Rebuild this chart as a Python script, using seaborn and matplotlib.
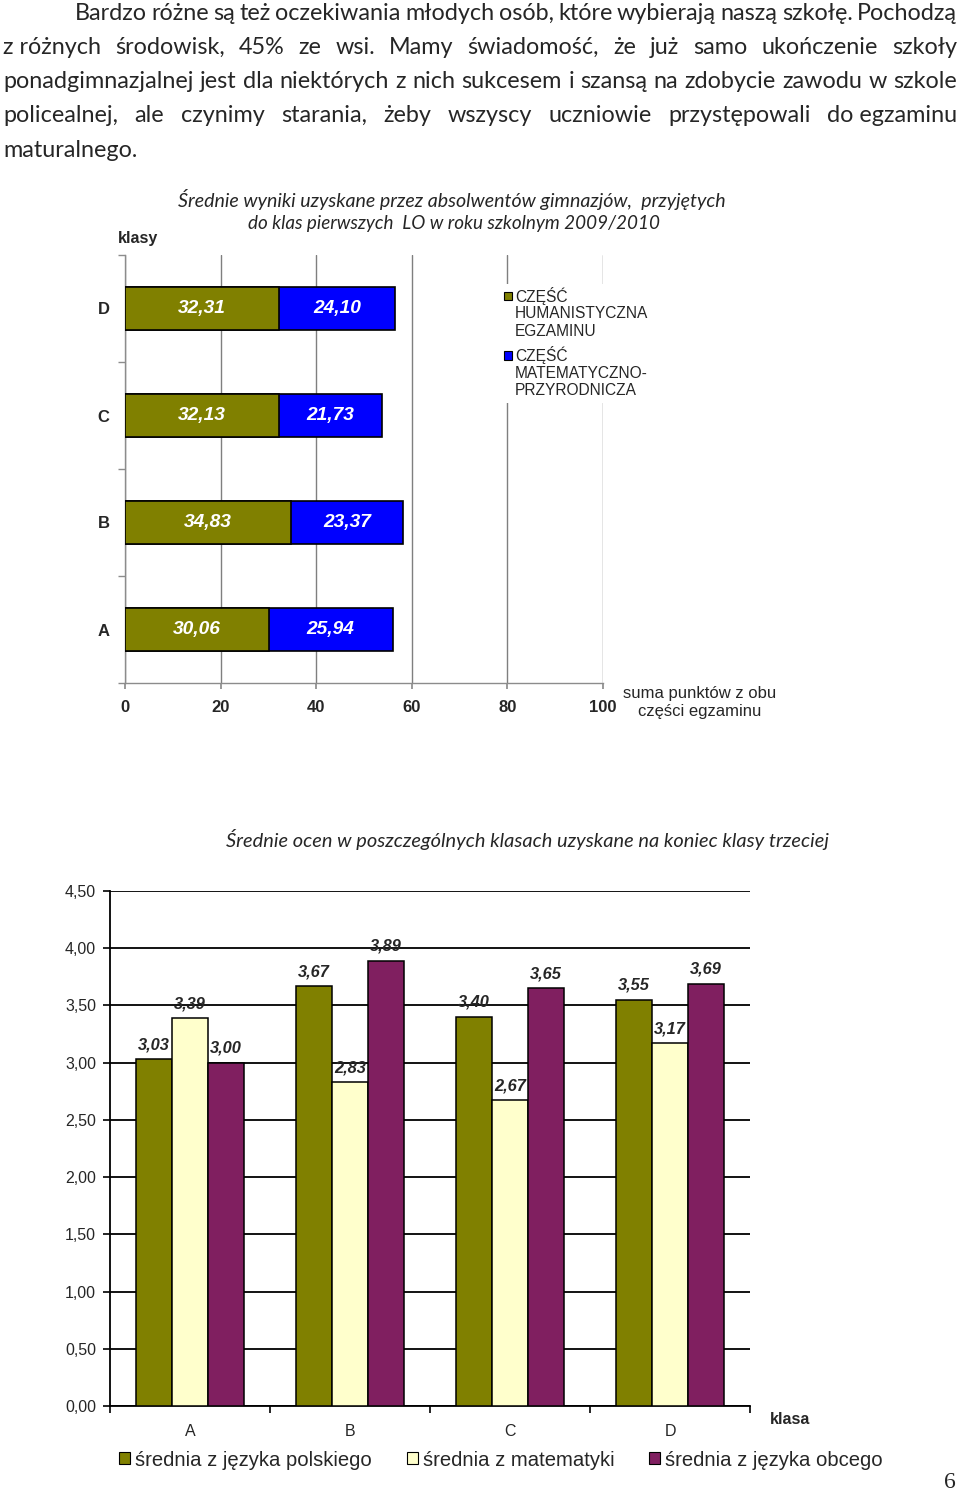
import numpy as np
import pandas as pd
import matplotlib
matplotlib.use("Agg")
import matplotlib.pyplot as plt
import seaborn as sns
from matplotlib.patches import Rectangle
from matplotlib import font_manager as fm

# ---------------- data ----------------
paragraph_lines = [
    "Bardzo różne są też oczekiwania młodych osób, które wybierają naszą szkołę. Pochodzą",
    "z\u00a0różnych środowisk, 45% ze wsi. Mamy świadomość, że już samo ukończenie szkoły",
    "ponadgimnazjalnej jest dla niektórych z nich sukcesem i szansą na zdobycie zawodu w szkole",
    "policealnej, ale czynimy starania, żeby wszyscy uczniowie przystępowali do\u00a0egzaminu",
    "maturalnego.",
]
top_title_lines = [
    "Średnie wyniki uzyskane przez absolwentów gimnazjów,  przyjętych",
    "do klas pierwszych  LO w roku szkolnym 2009/2010",
]
classes_top = ["D", "C", "B", "A"]
hum_scores = [32.31, 32.13, 34.83, 30.06]
math_scores = [24.10, 21.73, 23.37, 25.94]
top_ticks = [0, 20, 40, 60, 80, 100]
top_legend = [["CZĘŚĆ", "HUMANISTYCZNA", "EGZAMINU"],
              ["CZĘŚĆ", "MATEMATYCZNO-", "PRZYRODNICZA"]]
top_xlabel = ["suma punktów z obu", "części egzaminu"]

bottom_title = "Średnie ocen w poszczególnych klasach uzyskane na koniec klasy trzeciej"
classes_bottom = ["A", "B", "C", "D"]
series_names = ["średnia z języka polskiego", "średnia z matematyki", "średnia z języka obcego"]
polish = [3.03, 3.67, 3.40, 3.55]
maths = [3.39, 2.83, 2.67, 3.17]
foreign = [3.00, 3.89, 3.65, 3.69]
bottom_ticks = [0, 0.5, 1.0, 1.5, 2.0, 2.5, 3.0, 3.5, 4.0, 4.5]

OLIVE = "#808000"
BLUE = "#0000FF"
CREAM = "#FFFFCC"
PLUM = "#801F60"

# ---------------- setup ----------------
sns.set_theme(style="white")
plt.rcParams["font.family"] = ["Liberation Sans", "DejaVu Sans"]
names = {f.name for f in fm.fontManager.ttflist}
NARROW = "Liberation Sans Narrow" if "Liberation Sans Narrow" in names else "Liberation Sans"
narrow_size = 14.5 if NARROW == "Liberation Sans Narrow" else 13.8
BODY = "Lato" if "Lato" in names else "DejaVu Sans"

W, H = 960, 1493
fig = plt.figure(figsize=(W / 100, H / 100), dpi=100)
fig.patch.set_facecolor("white")


def fx(px):
    return px / W


def fy(py):
    return 1 - py / H


def comma(v, nd=2):
    return f"{v:.{nd}f}".replace(".", ",")


renderer = fig.canvas.get_renderer()


def twidth(s, **kw):
    t = fig.text(0, 0, s, **kw)
    w = t.get_window_extent(renderer).width
    t.remove()
    return w


# ---------------- paragraph (justified) ----------------
body_kw = dict(family=[BODY, "DejaVu Sans"], size=16)
w3 = twidth(paragraph_lines[2], **body_kw)
body_kw["size"] = 16 * 954 / w3
baselines = [20, 54, 88, 122, 157]
lefts = [75, 3, 3, 3, 3]
for i, line in enumerate(paragraph_lines):
    words = line.split(" ")
    if i == len(paragraph_lines) - 1:
        fig.text(fx(lefts[i]), fy(baselines[i]), line, ha="left", va="baseline", **body_kw)
        continue
    widths = [twidth(w, **body_kw) for w in words]
    gap = (957 - lefts[i] - sum(widths)) / (len(words) - 1)
    x = lefts[i]
    for w, wd in zip(words, widths):
        fig.text(fx(x), fy(baselines[i]), w, ha="left", va="baseline", **body_kw)
        x += wd + gap

# ---------------- top chart ----------------
ax1 = fig.add_axes([fx(125), fy(683), fx(603) - fx(125), (683 - 255) / H])
df_top = pd.DataFrame({"klasa": classes_top, "hum": hum_scores, "mat": math_scores})
df_top["total"] = df_top["hum"] + df_top["mat"]
sns.barplot(data=df_top, x="total", y="klasa", order=classes_top, color=BLUE,
            saturation=1, width=0.4, edgecolor="black", linewidth=1.2,
            errorbar=None, ax=ax1, zorder=3)
sns.barplot(data=df_top, x="hum", y="klasa", order=classes_top, color=OLIVE,
            saturation=1, width=0.4, edgecolor="black", linewidth=1.2,
            errorbar=None, ax=ax1, zorder=3)
ax1.set_xlim(0, 100)
ax1.set_ylim(3.5, -0.5)
ax1.set_xticks(top_ticks)
ax1.set_xticklabels([str(t) for t in top_ticks])
ax1.set_xlabel("")
ax1.set_ylabel("")
ax1.xaxis.grid(True, color="#7f7f7f", lw=1)
ax1.yaxis.grid(False)
ax1.set_axisbelow(True)
for s in ["top", "right"]:
    ax1.spines[s].set_visible(False)
for s in ["left", "bottom"]:
    ax1.spines[s].set_color("#8c8c8c")
    ax1.spines[s].set_linewidth(1)
ax1.tick_params(axis="x", bottom=True, length=4, color="#8c8c8c", pad=8, labelsize=12)
ax1.tick_params(axis="y", which="major", left=False, length=0, pad=11, labelsize=12)
ax1.set_yticks(np.arange(-0.5, 4, 1), minor=True)
ax1.tick_params(axis="y", which="minor", left=True, length=5, color="#8c8c8c", width=1)
for lab in ax1.get_xticklabels() + ax1.get_yticklabels():
    lab.set_fontweight("bold")

lab_kw = dict(color="white", fontweight="bold", style="italic",
              family=[NARROW, "DejaVu Sans"], fontsize=narrow_size)
ax1.bar_label(ax1.containers[1], labels=[comma(v) for v in hum_scores],
              label_type="center", **lab_kw)
for i, (h, m) in enumerate(zip(hum_scores, math_scores)):
    ax1.text(h + m / 2, i, comma(m), ha="center", va="center", zorder=5, **lab_kw)

title_sizes = [14.1, 13.6]
for j, line in enumerate(top_title_lines):
    fig.text(fx(452 + 2 * j), fy(200 + 24 * j), line, ha="center", va="center",
             style="italic", family=[BODY, "DejaVu Sans"], size=title_sizes[j])
fig.text(fx(138), fy(238), "klasy", ha="center", va="center", fontweight="bold", size=11.5)
for j, line in enumerate(top_xlabel):
    fig.text(fx(700), fy(693 + 19 * j), line, ha="center", va="center", size=12)

# legend of top chart (white panel hides grid lines)
fig.add_artist(Rectangle((fx(497), fy(403)), fx(665) - fx(497), (403 - 284) / H,
                         transform=fig.transFigure, facecolor="white",
                         edgecolor="none", zorder=2))
for k, (col, lines) in enumerate(zip([OLIVE, BLUE], top_legend)):
    y0 = 296 + 59.5 * k
    fig.add_artist(Rectangle((fx(503.5), fy(y0 + 4)), 8 / W, 8 / H,
                             transform=fig.transFigure, facecolor=col,
                             edgecolor="black", lw=0.8, zorder=3))
    for j, line in enumerate(lines):
        fig.text(fx(515), fy(y0 + 17.7 * j), line, ha="left", va="center",
                 size=11.2, zorder=3)

# ---------------- bottom chart ----------------
fig.text(fx(528), fy(840), bottom_title, ha="center", va="center",
         style="italic", family=[BODY, "DejaVu Sans"], size=14.4)

ax2 = fig.add_axes([fx(110), fy(1406), fx(750) - fx(110), (1406 - 891) / H])
df_bot = pd.DataFrame({
    "klasa": classes_bottom * 3,
    "seria": [series_names[0]] * 4 + [series_names[1]] * 4 + [series_names[2]] * 4,
    "ocena": polish + maths + foreign,
})
sns.barplot(data=df_bot, x="klasa", y="ocena", hue="seria", order=classes_bottom,
            hue_order=series_names, palette=[OLIVE, CREAM, PLUM], saturation=1,
            width=0.675, edgecolor="black", linewidth=1.1, errorbar=None,
            ax=ax2, zorder=3)
ax2.set_ylim(0, 4.5)
ax2.set_xlim(-0.5, 3.5)
ax2.set_yticks(bottom_ticks)
ax2.set_yticklabels([comma(t) for t in bottom_ticks])
ax2.set_xlabel("")
ax2.set_ylabel("")
ax2.yaxis.grid(True, color="black", lw=1.3)
ax2.xaxis.grid(False)
ax2.set_axisbelow(True)
for s in ["top", "right"]:
    ax2.spines[s].set_visible(False)
for s in ["left", "bottom"]:
    ax2.spines[s].set_color("black")
    ax2.spines[s].set_linewidth(1.3)
ax2.tick_params(axis="y", left=True, length=5, width=1.2, color="black", pad=5, labelsize=11.5)
ax2.tick_params(axis="x", which="major", bottom=False, length=0, pad=13, labelsize=11.5)
ax2.set_xticks(np.arange(-0.5, 4, 1), minor=True)
ax2.tick_params(axis="x", which="minor", bottom=True, length=5, width=1.2, color="black")

vals = [polish, maths, foreign]
for cont, v in zip(ax2.containers, vals):
    ax2.bar_label(cont, labels=[comma(x) for x in v], padding=5, fontsize=11.8,
                  fontweight="bold", style="italic", zorder=5)

sns.move_legend(ax2, "center", bbox_to_anchor=(fx(501), fy(1460)),
                bbox_transform=fig.transFigure, ncol=3, frameon=False, title=None,
                fontsize=14.6, handlelength=0.55, handleheight=0.55,
                handletextpad=0.25, columnspacing=1.7)
leg = ax2.get_legend()
for h in leg.legend_handles:
    h.set_edgecolor("black")
    h.set_linewidth(0.8)

fig.text(fx(790), fy(1419), "klasa", ha="center", va="center", fontweight="bold", size=11.5)
fig.text(fx(950), fy(1483), "6", ha="center", va="center",
         family=["Liberation Serif", "DejaVu Serif"], size=17)

fig.savefig("out.png", dpi=100, facecolor="white")
